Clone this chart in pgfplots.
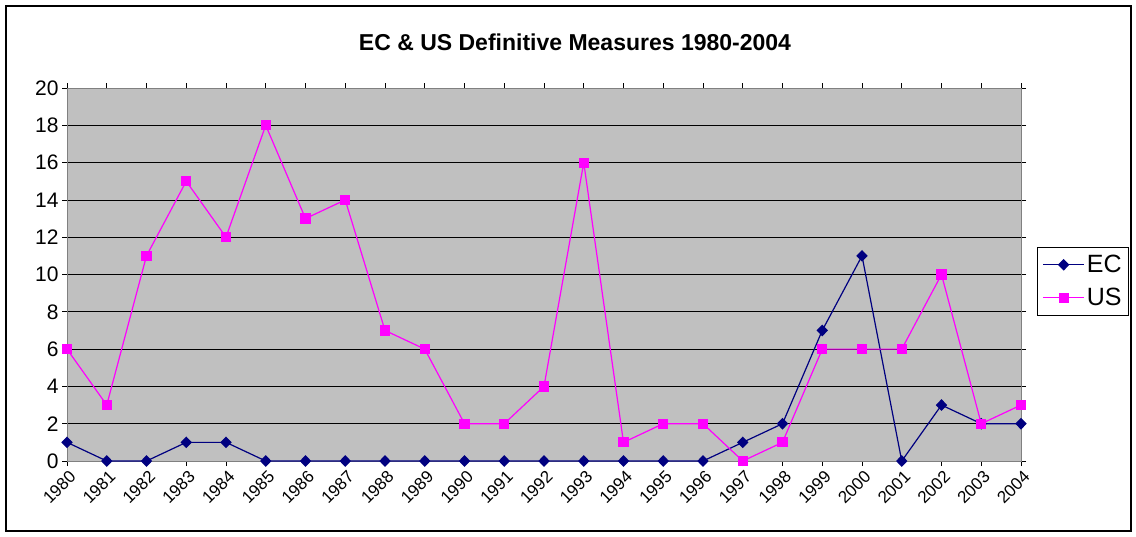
\documentclass[border=0pt]{standalone}
\usepackage{fontspec}
\setmainfont{Liberation Sans}
\usepackage{pgfplots}
\pgfplotsset{compat=1.18}
\definecolor{ecblue}{RGB}{0,0,128}
\definecolor{usmag}{RGB}{255,0,255}
\definecolor{plotgray}{RGB}{192,192,192}
\definecolor{axgray}{RGB}{128,128,128}
\begin{document}
\begin{tikzpicture}[x=1pt,y=1pt]
\useasboundingbox (0,0) rectangle (1136,-536);
\draw[line width=1.2pt] (6,-6) rectangle (1131,-531);
\node[font=\fontsize{23}{26}\selectfont\bfseries] at (575,-42) {EC \& US Definitive Measures 1980-2004};
\begin{axis}[
  at={(67pt,-461pt)}, anchor=south west,
  width=954pt, height=373pt, scale only axis,
  xmin=0, xmax=24, ymin=0, ymax=20,
  ytick={0,2,...,20},
  xtick={0,...,24},
  xticklabels={1980,1981,1982,1983,1984,1985,1986,1987,1988,1989,1990,1991,1992,1993,1994,1995,1996,1997,1998,1999,2000,2001,2002,2003,2004},
  x tick label style={rotate=45, anchor=north east, font=\fontsize{17}{19}\selectfont, xshift=2pt},
  y tick label style={font=\fontsize{21}{24}\selectfont},
  /pgf/number format/assume math mode=true,
  tick align=outside,
  major tick length=5pt,
  tick style={black, line width=0.8pt},
  ymajorgrids,
  grid style={black, line width=0.8pt},
  axis background/.style={fill=plotgray},
  axis line style={axgray, line width=1pt},
  legend style={at={(1.0168,0.574)}, anchor=north west, draw=black, line width=0.8pt, font=\fontsize{25}{28}\selectfont, row sep=10pt, inner xsep=5pt, inner ysep=6pt},
  legend cell align=left,
  legend image code/.code={\draw[#1] (0cm,0cm) -- (1.45cm,0cm); \draw[#1, only marks] plot coordinates {(0.725cm,0cm)};},
  clip=false,
]
\addplot[ecblue, line width=1.2pt, mark=diamond*, mark size=5pt, mark options={fill=ecblue, xscale=1.3}] coordinates {
(0,1)(1,0)(2,0)(3,1)(4,1)(5,0)(6,0)(7,0)(8,0)(9,0)(10,0)(11,0)(12,0)(13,0)(14,0)(15,0)(16,0)(17,1)(18,2)(19,7)(20,11)(21,0)(22,3)(23,2)(24,2)};
\addlegendentry{EC}
\addplot[usmag, line width=1.2pt, mark=square*, mark size=4.5pt, mark options={fill=usmag}] coordinates {
(0,6)(1,3)(2,11)(3,15)(4,12)(5,18)(6,13)(7,14)(8,7)(9,6)(10,2)(11,2)(12,4)(13,16)(14,1)(15,2)(16,2)(17,0)(18,1)(19,6)(20,6)(21,6)(22,10)(23,2)(24,3)};
\addlegendentry{US}
\end{axis}
\end{tikzpicture}
\end{document}
